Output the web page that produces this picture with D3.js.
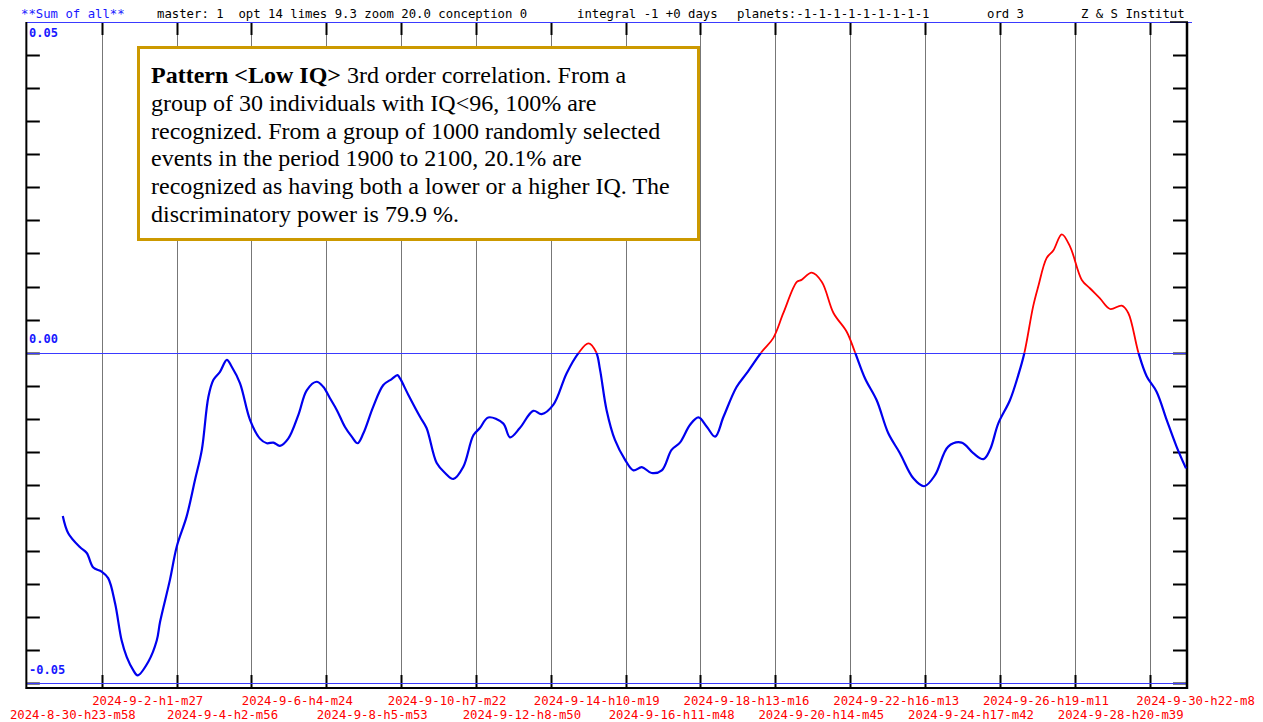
<!DOCTYPE html>
<html><head><meta charset="utf-8">
<script src="https://cdn.jsdelivr.net/npm/d3@7"></script>
<style>body{margin:0;background:#fff}svg text{white-space:pre}</style>
</head><body><svg id="c" width="1263" height="722"></svg>
<script>
// ---- data ----
// x: days since 2024-08-30 23:58, y: correlation value
const days = [0.99,1.14,1.46,1.65,1.83,2.06,2.24,2.43,2.61,2.75,2.93,3.05,3.35,3.58,3.67,3.94,4.13,4.40,4.63,4.82,5.00,5.14,5.32,5.51,5.64,5.87,6.15,6.42,6.61,6.79,6.97,7.20,7.48,7.71,7.98,8.17,8.35,8.54,8.76,8.95,9.11,9.27,9.54,9.82,10.05,10.21,10.28,10.51,10.83,11.01,11.29,11.52,11.75,12.02,12.30,12.48,12.71,13.12,13.31,13.58,13.95,14.18,14.50,14.87,15.19,15.47,15.68,15.79,15.97,16.20,16.48,16.71,16.94,17.21,17.49,17.76,17.99,18.27,18.50,18.73,18.96,19.19,19.55,19.83,20.24,20.56,20.84,21.21,21.34,21.62,21.90,22.22,22.58,22.81,23.09,23.41,23.73,24.05,24.42,24.72,25.02,25.38,25.75,26.07,26.35,26.53,26.76,27.08,27.31,27.48,27.72,27.86,28.09,28.28,28.51,28.74,29.06,29.29,29.56,29.84,30.16,30.34,30.62,30.85,31.12,31.40,31.67,31.93];
const values = [-0.0247,-0.0273,-0.0294,-0.0303,-0.0325,-0.0331,-0.0341,-0.0379,-0.0435,-0.0460,-0.0480,-0.0488,-0.0467,-0.0435,-0.0407,-0.0344,-0.0293,-0.0248,-0.0193,-0.0147,-0.0067,-0.0041,-0.0029,-0.0011,-0.0021,-0.0046,-0.0102,-0.0130,-0.0137,-0.0136,-0.0141,-0.0130,-0.0094,-0.0057,-0.0044,-0.0052,-0.0069,-0.0087,-0.0112,-0.0127,-0.0137,-0.0122,-0.0082,-0.0049,-0.0040,-0.0034,-0.0039,-0.0064,-0.0097,-0.0114,-0.0167,-0.0182,-0.0191,-0.0173,-0.0125,-0.0114,-0.0098,-0.0107,-0.0128,-0.0114,-0.0088,-0.0093,-0.0079,-0.0031,-0.0001,0.0014,0.0001,-0.0026,-0.0087,-0.0132,-0.0162,-0.0178,-0.0173,-0.0182,-0.0178,-0.0147,-0.0136,-0.0109,-0.0098,-0.0112,-0.0127,-0.0097,-0.0052,-0.0031,0.0001,0.0022,0.0060,0.0107,0.0110,0.0121,0.0107,0.0060,0.0032,0.0001,-0.0039,-0.0072,-0.0122,-0.0152,-0.0190,-0.0202,-0.0185,-0.0142,-0.0136,-0.0152,-0.0161,-0.0147,-0.0107,-0.0072,-0.0034,0.0000,0.0070,0.0100,0.0143,0.0155,0.0179,0.0160,0.0110,0.0097,0.0082,0.0066,0.0071,0.0060,0.0000,-0.0036,-0.0059,-0.0102,-0.0142,-0.0175];
const xTickLabels = ["2024-8-30-h23-m58","2024-9-2-h1-m27","2024-9-4-h2-m56","2024-9-6-h4-m24","2024-9-8-h5-m53","2024-9-10-h7-m22","2024-9-12-h8-m50","2024-9-14-h10-m19","2024-9-16-h11-m48","2024-9-18-h13-m16","2024-9-20-h14-m45","2024-9-22-h16-m13","2024-9-24-h17-m42","2024-9-26-h19-m11","2024-9-28-h20-m39","2024-9-30-h22-m8"];
const yTickLabels = [{v:0.05,t:"0.05"},{v:0.0,t:"0.00"},{v:-0.05,t:"-0.05"}];
const headerTexts = ["**Sum of all**","master: 1  opt 14 limes 9.3 zoom 20.0 conception 0","integral -1 +0 days","planets:-1-1-1-1-1-1-1-1-1","ord 3","Z & S Institut"];
const noteBold = "Pattern <Low IQ>";
const noteLines = [" 3rd order correlation. From a","group of 30 individuals with IQ<96, 100% are","recognized. From a group of 1000 randomly selected","events in the period 1900 to 2100, 20.1% are","recognized as having both a lower or a higher IQ. The","discriminatory power is 79.9 %."];

// ---- layout ----
const W=1263,H=722;
const STEP = 2 + 89/1440;               // 2 days 1 h 29 min between labels
const X0=26.85, XR=1187, YT=22, YB=683.3, AXB=688;
const svg=d3.select("#c");
svg.append("rect").attr("width",W).attr("height",H).attr("fill","#fff");
const x=d3.scaleLinear().domain([0,15.5*STEP]).range([X0,XR]);
const y=d3.scaleLinear().domain([-0.05,0.05]).range([YB,YT]);
const mono="'DejaVu Sans Mono','Liberation Mono',monospace";

// vertical grid
const kTicks=d3.range(16);
svg.append("g").selectAll("line").data(kTicks.slice(1)).join("line")
  .attr("x1",k=>Math.round(x(k*STEP))+0.5).attr("x2",k=>Math.round(x(k*STEP))+0.5)
  .attr("y1",YT).attr("y2",AXB).attr("stroke","#777").attr("stroke-width",1);
svg.append("g").selectAll("line").data(kTicks.slice(1)).join("line")
  .attr("x1",k=>Math.round(x(k*STEP))+0.5).attr("x2",k=>Math.round(x(k*STEP))+0.5)
  .attr("y1",YT).attr("y2",YT+13).attr("stroke","#000").attr("stroke-width",2);
svg.append("g").selectAll("line").data(kTicks.slice(1)).join("line")
  .attr("x1",k=>Math.round(x(k*STEP))+0.5).attr("x2",k=>Math.round(x(k*STEP))+0.5)
  .attr("y1",AXB-13).attr("y2",AXB).attr("stroke","#000").attr("stroke-width",2);

// y ticks
const yt=d3.range(20).map(i=>-0.05+i*0.005);
svg.append("g").selectAll("line").data(yt).join("line")
  .attr("x1",X0).attr("x2",X0+13).attr("y1",v=>Math.round(y(v))+0.5).attr("y2",v=>Math.round(y(v))+0.5)
  .attr("stroke","#000").attr("stroke-width",2);
svg.append("g").selectAll("line").data(yt).join("line")
  .attr("x1",XR-14).attr("x2",XR).attr("y1",v=>Math.round(y(v))+0.5).attr("y2",v=>Math.round(y(v))+0.5)
  .attr("stroke","#000").attr("stroke-width",2);

// horizontal blue lines: top, zero, bottom
[0.05,0,-0.05].forEach(v=>{
  svg.append("line").attr("x1",X0).attr("x2",v===0.05?1192:XR)
    .attr("y1",Math.round(y(v))+0.5).attr("y2",Math.round(y(v))+0.5)
    .attr("stroke","#3a3aff").attr("stroke-width",1);
});

// axes frame
svg.append("line").attr("x1",X0-0.5).attr("x2",X0-0.5).attr("y1",YT).attr("y2",AXB+1).attr("stroke","#000").attr("stroke-width",2);
svg.append("line").attr("x1",XR).attr("x2",XR).attr("y1",YT).attr("y2",AXB+1).attr("stroke","#000").attr("stroke-width",2.5);
svg.append("line").attr("x1",X0-1).attr("x2",XR+1).attr("y1",AXB).attr("y2",AXB).attr("stroke","#000").attr("stroke-width",2);
svg.append("line").attr("x1",XR-17).attr("x2",XR+1).attr("y1",YT).attr("y2",YT).attr("stroke","#000").attr("stroke-width",1.5);

// y labels
svg.append("g").selectAll("text").data(yTickLabels).join("text")
  .attr("x",29).attr("y",d=>d.v===0.05?37:d.v===0?343:674)
  .attr("font-family",mono).attr("font-size","12px").attr("font-weight","bold").attr("fill","#1818ff")
  .text(d=>d.t);

// x labels
svg.append("g").selectAll("text").data(xTickLabels).join("text")
  .attr("x",(d,i)=>x(i*STEP)+46).attr("y",(d,i)=>i%2?705:719)
  .attr("text-anchor","middle").attr("font-family",mono).attr("font-size","12.3px").attr("fill","#ff0000")
  .text(d=>d);

// header
const hx=[21,157,577,737,987,1081];
svg.append("g").selectAll("text").data(headerTexts).join("text")
  .attr("x",(d,i)=>hx[i]).attr("y",18)
  .attr("font-family",mono).attr("font-size","12.3px").attr("fill",(d,i)=>i===0?"#1818ff":"#000")
  .text(d=>d);

// data line, red above zero, blue below
const pts=days.map((d,i)=>[d,values[i]]);
const line=d3.line().x(d=>x(d[0])).y(d=>y(d[1])).curve(d3.curveCatmullRom.alpha(0.5));
const defs=svg.append("defs");
defs.append("clipPath").attr("id","above").append("rect").attr("x",0).attr("y",0).attr("width",W).attr("height",y(0));
defs.append("clipPath").attr("id","below").append("rect").attr("x",0).attr("y",y(0)).attr("width",W).attr("height",H-y(0));
svg.append("path").datum(pts).attr("d",line).attr("fill","none").attr("stroke","#0000ee").attr("stroke-width",2.2).attr("clip-path","url(#below)");
svg.append("path").datum(pts).attr("d",line).attr("fill","none").attr("stroke","#ff0000").attr("stroke-width",1.8).attr("clip-path","url(#above)");

// note box
svg.append("rect").attr("x",138.5).attr("y",47.5).attr("width",560).attr("height",192)
  .attr("fill","#fff").attr("stroke","#cc9900").attr("stroke-width",3);
const serif="'Liberation Serif','Times New Roman',Times,serif";
const note=svg.append("text").attr("font-family",serif).attr("font-size","24px").attr("fill","#000");
const l0=note.append("tspan").attr("x",151).attr("y",82.7);
l0.append("tspan").attr("font-weight","bold").text(noteBold);
l0.append("tspan").text(noteLines[0]);
noteLines.slice(1).forEach((t,i)=>{
  note.append("tspan").attr("x",151).attr("y",82.7+(i+1)*27.9).text(t);
});
</script></body></html>
